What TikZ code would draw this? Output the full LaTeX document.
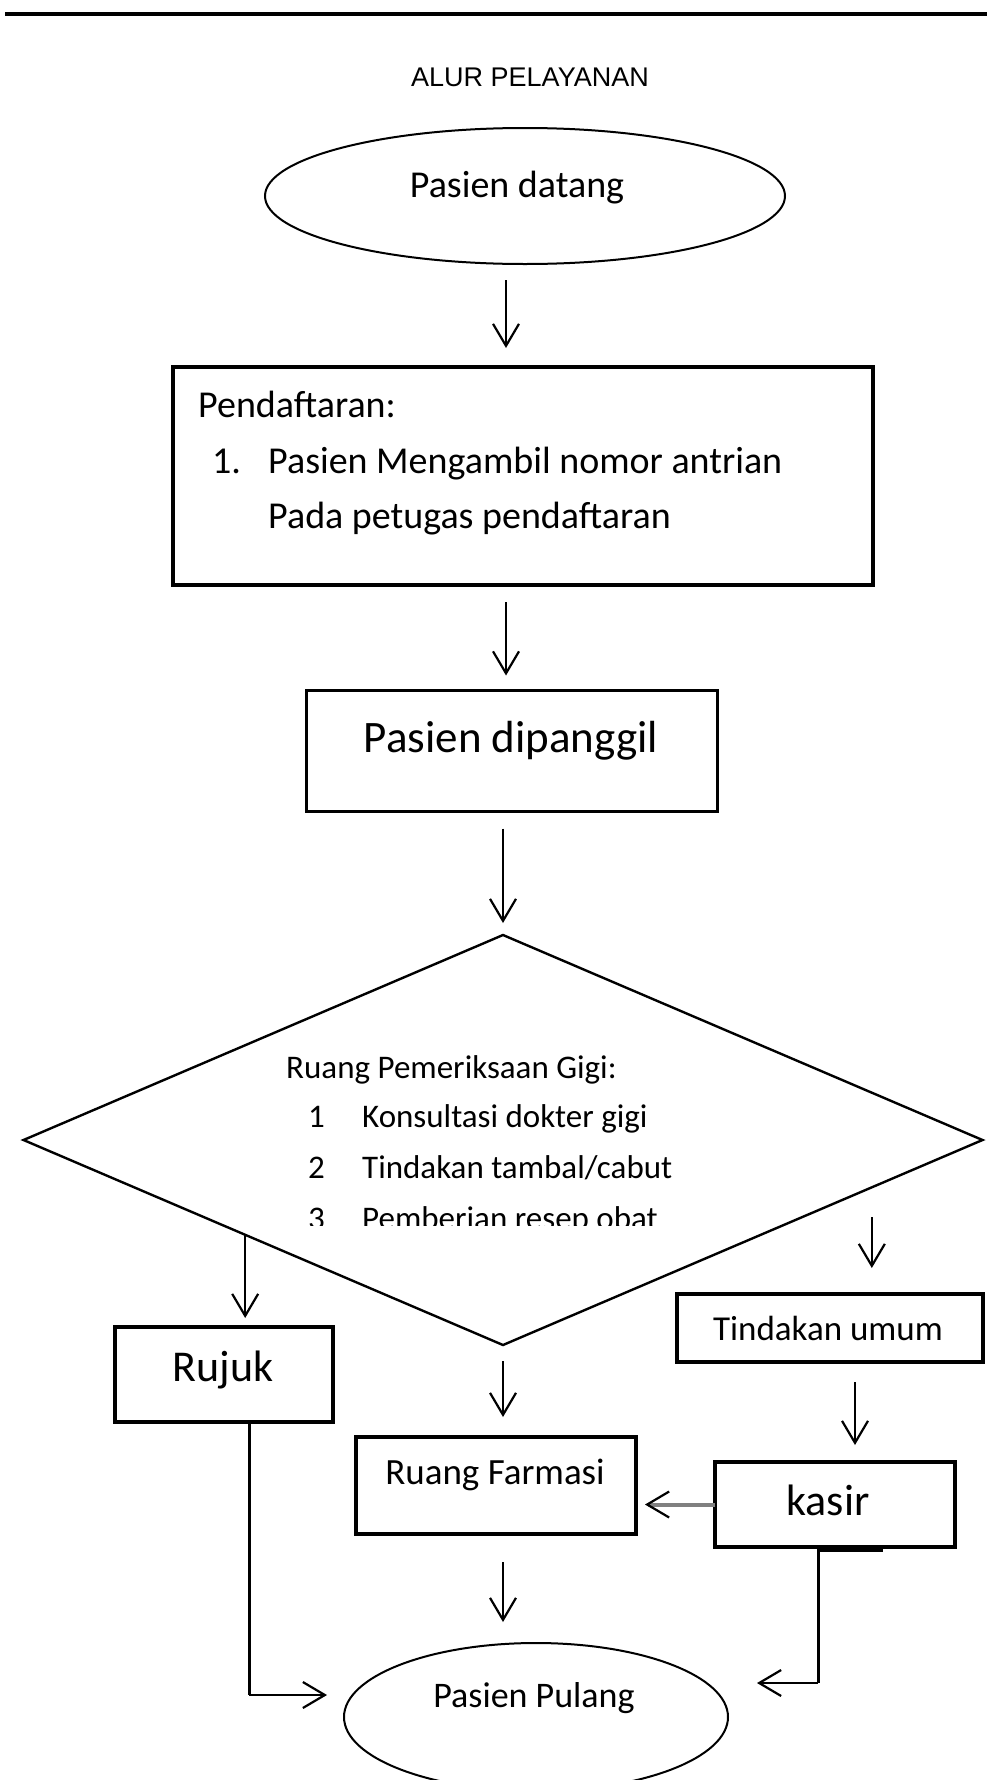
\documentclass[tikz,border=0pt]{standalone}
\usepackage{fontspec}
\setmainfont{Carlito}
\newfontfamily\arialf{Liberation Sans}
\usetikzlibrary{arrows.meta,shapes.geometric,calc}
\newcommand{\fsz}[1]{\fontsize{#1}{#1}\selectfont}
\begin{document}
\begin{tikzpicture}[x=1pt,y=-1pt,
  box/.style={draw, line width=3.2pt, inner sep=0pt, outer sep=0pt},
  oval/.style={draw, ellipse, line width=2pt, inner sep=0pt, outer sep=0pt},
  arr/.style={line width=2.2pt, -{Straight Barb[length=22pt,width=26pt,line width=2.2pt]}},
  link/.style={line width=3pt},
  lbl/.style={inner sep=0pt, anchor=base west},
  txt/.style={inner sep=0pt},
]
\useasboundingbox (0,0) rectangle (987,1780);
\fill[white] (0,0) rectangle (987,1780);

% top rule
\coordinate (r1) at (5,14);
\coordinate (r2) at (987,14);
\draw[line width=4pt] (r1) -- (r2);

% title
\node[txt, font=\arialf\fsz{27}] (title) at (530,77) {ALUR PELAYANAN};

% shapes
\node[oval, minimum width=520, minimum height=136] (e1) at (525,196) {};
\node[txt, font=\fsz{38}] (t1) at (517,188) {Pasien datang};

\node[box, minimum width=700, minimum height=218] (reg) at (523,476) {};
\node[lbl, font=\fsz{38}] (t2a) at (198,417) {Pendaftaran:};
\node[lbl, font=\fsz{38}] (t2b) at (212,473) {1.};
\node[lbl, font=\fsz{38}] (t2c) at (268,473) {Pasien Mengambil nomor antrian};
\node[lbl, font=\fsz{38}] (t2d) at (268,528) {Pada petugas pendaftaran};

\node[box, minimum width=411, minimum height=121] (call) at (512,751) {};
\node[txt, font=\fsz{45}] (t3) at (511,741) {Pasien dipanggil};

\node[draw, diamond, line width=2.4pt, minimum width=959, minimum height=410, inner sep=0pt, outer sep=0pt] (dia) at (503,1140) {};
\node[lbl, font=\fsz{33}] (t4a) at (286,1078) {Ruang Pemeriksaan Gigi:};
\node[lbl, font=\fsz{33}] (t4b) at (308,1127) {1};
\node[lbl, font=\fsz{33}] (t4c) at (362,1127) {Konsultasi dokter gigi};
\node[lbl, font=\fsz{33}] (t4d) at (308,1178) {2};
\node[lbl, font=\fsz{33}] (t4e) at (362,1178) {Tindakan tambal/cabut};
\begin{scope}
\clip (0,0) rectangle (987,1225);
\node[lbl, font=\fsz{33}] (t4f) at (308,1229) {3};
\node[lbl, font=\fsz{33}] (t4g) at (362,1229) {Pemberian resep obat};
\end{scope}

\node[box, minimum width=218, minimum height=95] (ruj) at (224,1374.5) {};
\node[txt, font=\fsz{44}] (t5) at (223,1370) {Rujuk};

\node[box, minimum width=280, minimum height=97] (farm) at (496,1485.5) {};
\node[txt, font=\fsz{37}] (t6) at (495,1475) {Ruang Farmasi};

\node[box, minimum width=306, minimum height=68] (tind) at (830,1328) {};
\node[txt, font=\fsz{35}] (t7) at (828,1328) {Tindakan umum};

\node[box, minimum width=240, minimum height=85] (kas) at (835,1504.5) {};
\node[txt, font=\fsz{44}] (t8) at (828,1500) {kasir};

\node[oval, minimum width=384, minimum height=148] (pul) at (536,1717) {};
\node[txt, font=\fsz{36}] (t9) at (534,1698) {Pasien Pulang};

% helper x positions
\coordinate (ax) at (506,0);
\coordinate (kx) at (855,0);
\coordinate (dl) at ($(dia.west)!0.4623!(dia.south)$);
\coordinate (dr) at ($(dia.east)!0.2308!(dia.south)$);

% connectors
\draw[arr, shorten <=16pt, shorten >=19pt] (e1.south -| ax) -- (reg.north -| ax);
\draw[arr, shorten <=17pt, shorten >=15pt] (reg.south -| ax) -- (call.north -| ax);
\draw[arr, shorten <=17pt, shorten >=12pt] (call.south -| dia.north) -- (dia.north);
\draw[arr, shorten >=9pt] (dl) -- (ruj.north -| dl);
\draw[arr, shorten <=30pt, shorten >=26pt] (dr) -- (tind.north -| dr);
\draw[arr, shorten <=16pt, shorten >=20pt] (dia.south) -- (farm.north -| dia.south);
\draw[arr, shorten <=20pt, shorten >=17pt] (tind.south -| kx) -- (kas.north -| kx);
\draw[line width=4pt, gray, -{Straight Barb[length=22pt,width=26pt,line width=2.2pt,color=black]}, shorten >=9pt] (kas.west) -- (farm.east |- kas.west);
\draw[arr, shorten <=28pt, shorten >=21pt] (farm.south -| dia.south) -- (pul.north -| dia.south);

\coordinate (rjx) at (249,1695);
\coordinate (pulL) at (327,1695);
\draw[link] (ruj.south -| rjx) -- (rjx);
\draw[arr] (rjx) -- (pulL);

\coordinate (kpx) at (818,1683);
\coordinate (pulR) at (757,1683);
\draw[line width=5pt] ($(kas.south -| kpx)+(0,2)$) -- ++(65,0);
\draw[link] (kas.south -| kpx) -- (kpx);
\draw[arr] (kpx) -- (pulR);
\end{tikzpicture}
\end{document}
